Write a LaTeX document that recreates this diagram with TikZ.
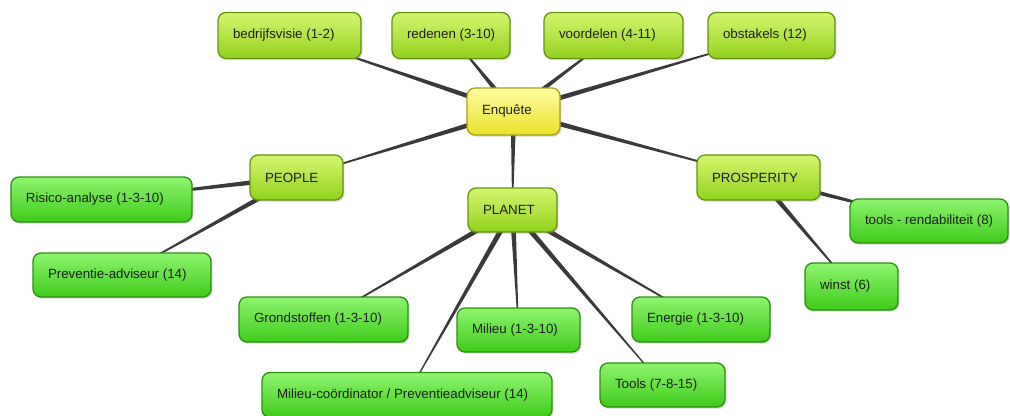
\documentclass[tikz,border=0pt]{standalone}
\usepackage{fontspec}
\setmainfont{Liberation Sans}
\usetikzlibrary{calc,shadows,backgrounds}

\definecolor{linkgray}{HTML}{3A3A3A}
\definecolor{inkdark}{HTML}{1E1E1E}
\definecolor{rootLine}{HTML}{A89F18}
\definecolor{rootTop}{HTML}{FFFCA0}
\definecolor{rootBot}{HTML}{EAE22A}
\definecolor{topicLine}{HTML}{66940F}
\definecolor{topicTop}{HTML}{D4F56E}
\definecolor{topicBot}{HTML}{93D21E}
\definecolor{leafLine}{HTML}{2B9010}
\definecolor{leafTop}{HTML}{8EF46E}
\definecolor{leafBot}{HTML}{3ECB1A}

% left-aligned label inside a box of fixed text width
\newcommand{\boxtext}[2]{\makebox[#1][l]{#2}}

% tapered connector: wide at the parent, narrow at the child
\newcommand{\taper}[2]{%
  \fill[linkgray] ($(#1)!2.1pt!90:(#2)$) -- ($(#2)!0.25pt!-90:(#1)$)
    -- ($(#2)!0.25pt!90:(#1)$) -- ($(#1)!2.1pt!-90:(#2)$) -- cycle;}

\tikzset{
  card/.style={rounded corners=6pt, line width=1pt, inner xsep=11.25pt,
    inner ysep=0pt, text=inkdark, font=\fontsize{10}{12}\selectfont,
    drop shadow={shadow xshift=1.1pt, shadow yshift=-1.3pt, opacity=0.3}},
  root/.style={card, draw=rootLine, top color=rootTop, bottom color=rootBot},
  topic/.style={card, draw=topicLine, top color=topicTop, bottom color=topicBot},
  leaf/.style={card, draw=leafLine, top color=leafTop, bottom color=leafBot},
  hA/.style={minimum height=34.5pt},
  hB/.style={minimum height=35.25pt},
  hC/.style={minimum height=33.75pt},
  hD/.style={minimum height=33pt},
}

\begin{document}
\begin{tikzpicture}[x=0.75pt, y=-0.75pt]
\useasboundingbox (0,0) rectangle (1010,415);

% centre
\node[root, hB] (enq) at (513.5,111.5) {\boxtext{47.25pt}{Enquête}};

% top row
\node[topic, hA] (visie) at (289.5,35.5) {\boxtext{84.75pt}{bedrijfsvisie (1-2)}};
\node[topic, hA] (reden) at (451,35.5) {\boxtext{66pt}{redenen (3-10)}};
\node[topic, hA] (voord) at (613.5,35.5) {\boxtext{81.75pt}{voordelen (4-11)}};
\node[topic, hA] (obst) at (771.5,35.5) {\boxtext{72.75pt}{obstakels (12)}};

% the three pillars
\node[topic, hC] (people) at (296.5,177.5) {\boxtext{47.25pt}{PEOPLE}};
\node[topic, hD] (planet) at (512.5,210) {\boxtext{44.25pt}{PLANET}};
\node[topic, hC] (prosp) at (758.5,177.5) {\boxtext{69.75pt}{PROSPERITY}};

% people
\node[leaf, hC] (risico) at (101.5,199.5) {\boxtext{113.25pt}{Risico-analyse (1-3-10)}};
\node[leaf, hD] (prevent) at (122,275) {\boxtext{111pt}{Preventie-adviseur (14)}};

% planet
\node[leaf, hC] (grond) at (323.5,319.5) {\boxtext{104.25pt}{Grondstoffen (1-3-10)}};
\node[leaf, hD] (milieu) at (518.5,330) {\boxtext{69.75pt}{Milieu (1-3-10)}};
\node[leaf, hC] (coord) at (407,395) {\boxtext{195pt}{Milieu-coördinator / Preventieadviseur (14)}};
\node[leaf, hC] (energie) at (701,319.5) {\boxtext{81pt}{Energie (1-3-10)}};
\node[leaf, hD] (tools) at (662.5,385) {\boxtext{71.25pt}{Tools (7-8-15)}};

% prosperity
\node[leaf, hD] (rend) at (929,221) {\boxtext{96pt}{tools - rendabiliteit (8)}};
\node[leaf, hB] (winst) at (851.5,286.5) {\boxtext{47.25pt}{winst (6)}};

\begin{scope}[on background layer]
  \taper{enq}{visie}
  \taper{enq}{reden}
  \taper{enq}{voord}
  \taper{enq}{obst}
  \taper{enq}{people}
  \taper{enq}{planet}
  \taper{enq}{prosp}
  \taper{people}{risico}
  \taper{people}{prevent}
  \taper{planet}{grond}
  \taper{planet}{milieu}
  \taper{planet}{coord}
  \taper{planet}{energie}
  \taper{planet}{tools}
  \taper{prosp}{rend}
  \taper{prosp}{winst}
\end{scope}
\end{tikzpicture}
\end{document}
